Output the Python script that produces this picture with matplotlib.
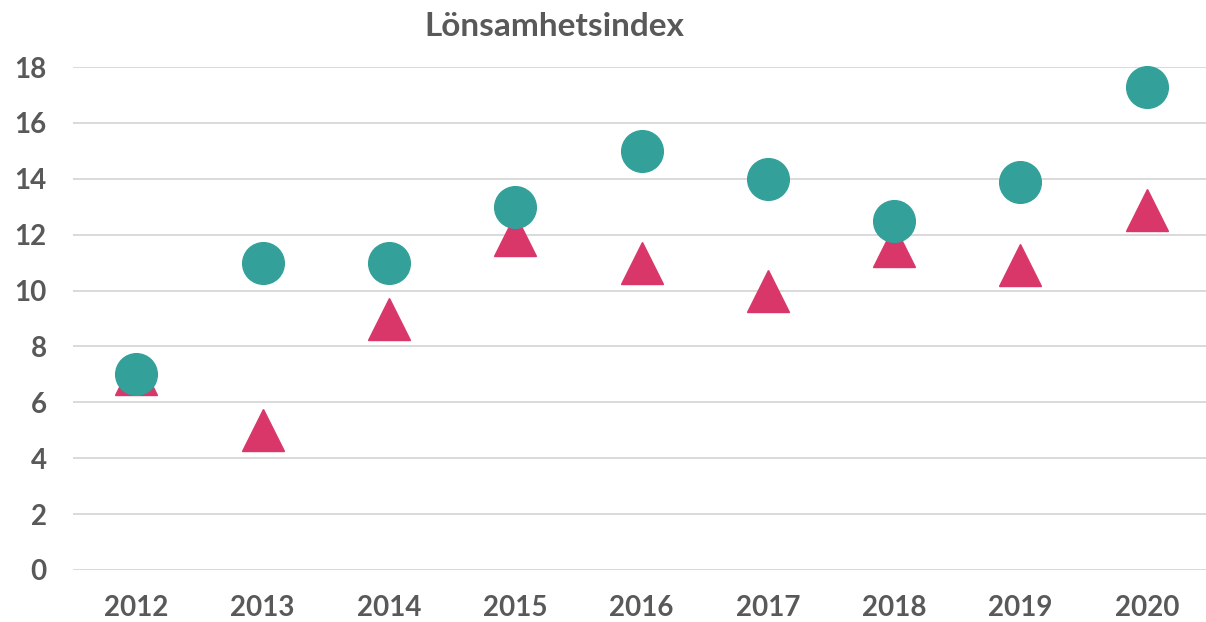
import matplotlib.pyplot as plt

years = ["2012", "2013", "2014", "2015", "2016", "2017", "2018", "2019", "2020"]
serie_cirkel = [7.0, 11.0, 11.0, 13.0, 15.0, 14.0, 12.5, 13.9, 17.3]
serie_triangel = [7.0, 5.0, 9.0, 12.0, 11.0, 10.0, 11.6, 10.9, 12.9]
y_ticks = [0, 2, 4, 6, 8, 10, 12, 14, 16, 18]

text_color = "#595959"
plt.rcParams["font.family"] = ["Lato", "DejaVu Sans"]

fig = plt.figure(figsize=(12.06, 6.22), dpi=100)
ax = fig.add_axes([73 / 1206, 52 / 622, 1137 / 1206, 503 / 622])

x = list(range(len(years)))
ax.plot(x, serie_triangel, linestyle="none", marker="^", markersize=30,
        color="#D9376A", clip_on=False, zorder=3)
ax.plot(x, serie_cirkel, linestyle="none", marker="o", markersize=30,
        color="#33A09A", clip_on=False, zorder=4)

ax.set_xlim(-0.5, len(years) - 0.5)
ax.set_ylim(0, 18)
ax.set_xticks(x)
ax.set_xticklabels(years)
ax.set_yticks(y_ticks)
ax.tick_params(length=0, labelsize=20, labelcolor=text_color)
ax.tick_params(axis="x", pad=18)
ax.tick_params(axis="y", pad=19)
for lab in ax.get_xticklabels() + ax.get_yticklabels():
    lab.set_fontweight("bold")

ax.grid(axis="y", color="#D9D9D9", linewidth=1.4)
ax.set_axisbelow(True)
for s in ax.spines.values():
    s.set_visible(False)

fig.text(554 / 1206, 1 - 27 / 622, "Lönsamhetsindex", ha="center", va="center",
         fontsize=24, fontweight="bold", color=text_color)

fig.savefig("out.png", dpi=100)
